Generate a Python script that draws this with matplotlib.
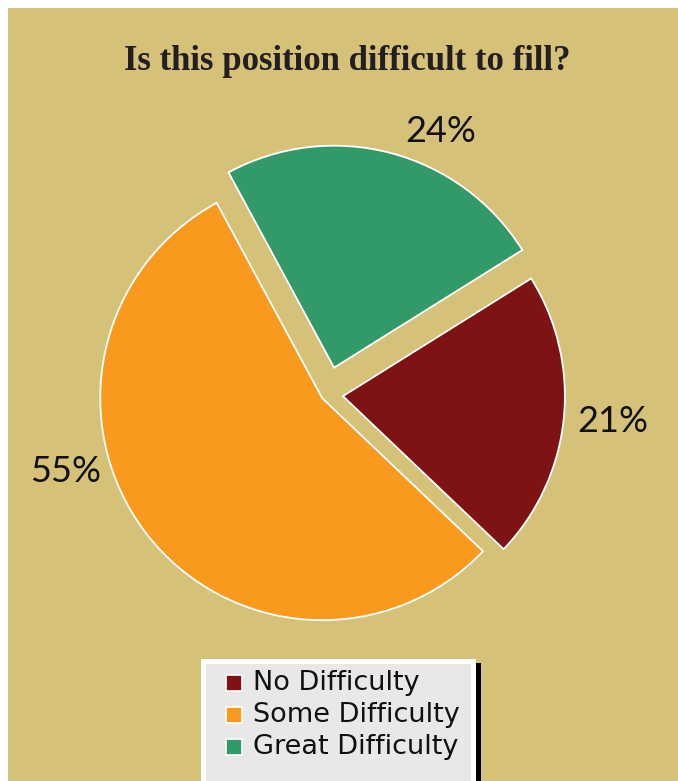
import numpy as np
import matplotlib.pyplot as plt
from matplotlib.patches import Rectangle

# survey answers, in drawing order (clockwise from the top-right)
categories = ['No Difficulty', 'Some Difficulty', 'Great Difficulty']
shares = [21, 55, 24]
colors = ['#7E1316', '#F99A1F', '#319A68']
explode = [0.072, 0.027, 0.125]  # as a fraction of the radius

W, H = 678, 781
bg = '#D5C178'
radius = 222

fig = plt.figure(figsize=(W / 100, H / 100), dpi=100)
fig.patch.set_facecolor('white')

# axes in pixel units, y pointing up
ax = fig.add_axes([0, 0, 1, 1])
ax.patch.set_alpha(0)
ax.add_patch(Rectangle((8, 0), W, H - 8, facecolor=bg, edgecolor='none', zorder=-10))

# pie's explode offset is in data units, so scale by the radius
wedges, _ = ax.pie(shares, colors=colors, explode=[e * radius for e in explode],
                   startangle=32, counterclock=False, center=(327, H - 394.5),
                   radius=radius, frame=True,
                   wedgeprops=dict(edgecolor='white', linewidth=1.3))

# percentage labels
label_pos = [(613, 421), (66, 472), (441, 131)]
for val, (x, y) in zip(shares, label_pos):
    ax.text(x, H - y, f'{val}%', ha='center', va='center', fontsize=26,
            family='Lato', color='#111111')

ax.text(347, H - 62, 'Is this position difficult to fill?', ha='center', va='center',
        fontsize=25, fontweight='bold', family='Liberation Serif', color='#231F20')

# legend box with a black drop shadow on the right
ax.add_patch(Rectangle((208, -10), 273, H - 663 + 10, facecolor='black', edgecolor='none'))
ax.add_patch(Rectangle((202.5, -10), 270, H - 660.5 + 10, facecolor='#E8E8E8',
                       edgecolor='white', linewidth=3.6))
row_y = [683, 715, 747]
for name, c, y in zip(categories, colors, row_y):
    ax.add_patch(Rectangle((226, H - y - 8), 16, 16, facecolor=c, edgecolor='white',
                           linewidth=1.2))
    ax.text(253, H - y, name, ha='left', va='center', fontsize=19.5, family='DejaVu Sans',
            color='#111111')

ax.set_xlim(0, W)
ax.set_ylim(0, H)
ax.set_aspect('equal')
ax.axis('off')

plt.savefig('out.png', dpi=100)
